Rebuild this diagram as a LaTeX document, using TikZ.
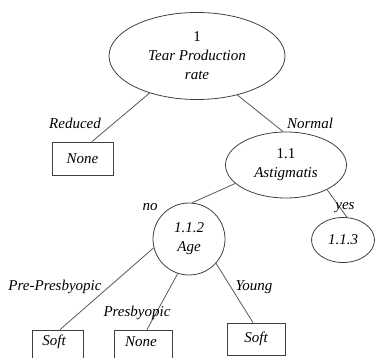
\documentclass[tikz,border=0pt]{standalone}
\usepackage{fontspec}
\setmainfont{Liberation Serif}
\usetikzlibrary{shapes.geometric}

\begin{document}
\begin{tikzpicture}[x=1pt, y=-1pt,
  every node/.style={font=\fontsize{15}{19}\selectfont\itshape},
  oval/.style={draw=black!75, line width=0.8pt, ellipse, align=center, inner sep=0pt},
  round/.style={draw=black!75, line width=0.8pt, circle, align=center, inner sep=0pt},
  leaf/.style={draw=black!75, line width=0.8pt, rectangle, inner sep=0pt},
  branch/.style={draw=black!65, line width=0.8pt}]
\useasboundingbox (0,0) rectangle (386,358);
\clip (0,0) rectangle (386,358);

\node[oval, minimum width=176pt, minimum height=87pt] (root) at (197,56) {\upshape 1\\Tear Production\\rate};
\node[oval, minimum width=121pt, minimum height=66pt] (n11) at (286,165) {\upshape 1.1\\Astigmatis};
\node[round, minimum size=72pt] (n112) at (189,239) {1.1.2\\Age};
\node[oval, minimum width=63pt, minimum height=45pt] (n113) at (343,240) {1.1.3};

\node[leaf, minimum width=61pt, minimum height=33pt] (none1) at (82.5,158.5) {None};
\node[leaf, minimum width=51pt, minimum height=32pt] (soft1) at (57.5,346) {};
\node[leaf, minimum width=58pt, minimum height=32pt] (none2) at (143,346) {};
\node[leaf, minimum width=58pt, minimum height=32pt] (soft2) at (256,339) {Soft};
\node (soft1txt) at (54,342) {Soft};
\node (none2txt) at (141,342) {None};

% branches
\draw[branch] (root.218) -- ([xshift=9.5pt]none1.north);
\draw[branch] (root.316) -- ([xshift=-3pt]n11.north);
\draw[branch] (n11.200) -- (n112.85);
\draw[branch] (n11.329) -- (n113.80);
\draw[branch] (n112.194) -- ([xshift=2.5pt]soft1.north);
\draw[branch] (n112.252) -- ([xshift=4pt]none2.north);
\draw[branch] (n112.318) -- ([xshift=-3pt]soft2.north);

% branch labels
\node (lred) at (75,123) {Reduced};
\node (lnorm) at (310,123) {Normal};
\node (lno) at (150,207) {no};
\node (lyes) at (345,208) {yes};
\node (lpre) at (55,287) {Pre-Presbyopic};
\node (lpres) at (137,313) {Presbyopic};
\node (lyoung) at (254,287) {Young};
\end{tikzpicture}
\end{document}
